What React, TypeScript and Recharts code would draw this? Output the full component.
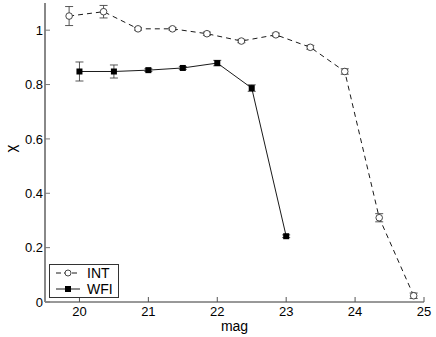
import React from 'react';
import { LineChart, Line, XAxis, YAxis, ErrorBar, Legend } from 'recharts';

const INT_MAG = [19.85, 20.35, 20.85, 21.35, 21.85, 22.35, 22.85, 23.35, 23.85, 24.35, 24.85];
const INT_CHI = [1.052, 1.068, 1.005, 1.005, 0.987, 0.96, 0.983, 0.937, 0.848, 0.31, 0.023];
const INT_ERR = [0.035, 0.023, 0.005, 0.005, 0.006, 0.006, 0.006, 0.007, 0.01, 0.015, 0.01];

const WFI_MAG = [20, 20.5, 21, 21.5, 22, 22.5, 23];
const WFI_CHI = [0.848, 0.848, 0.853, 0.861, 0.879, 0.787, 0.242];
const WFI_ERR = [0.035, 0.024, 0.005, 0.005, 0.01, 0.012, 0.005];

const X_TICKS = [20, 21, 22, 23, 24, 25];
const Y_TICKS = [0, 0.2, 0.4, 0.6, 0.8, 1];
const SERIES_NAMES = ['INT', 'WFI'];

const intData = INT_MAG.map((m, i) => ({ mag: m, chi: INT_CHI[i], err: INT_ERR[i] }));
const wfiData = WFI_MAG.map((m, i) => ({ mag: m, chi: WFI_CHI[i], err: WFI_ERR[i] }));

const FONT = '"Liberation Sans", Arial, Helvetica, sans-serif';

const SquareDot = (props: any) => {
  const { cx, cy } = props;
  if (cx == null || cy == null) return null;
  return <rect x={cx - 3} y={cy - 3} width={6} height={6} fill="#000" />;
};

const CircleDot = (props: any) => {
  const { cx, cy } = props;
  if (cx == null || cy == null) return null;
  return <circle cx={cx} cy={cy} r={3.3} fill="#fff" stroke="#333" strokeWidth={0.9} />;
};

const LegendBox = () => (
  <div
    style={{
      border: '1px solid #333',
      background: '#fff',
      width: 68,
      height: 32,
      fontFamily: FONT,
      fontSize: 14,
      color: '#000',
      boxSizing: 'content-box',
    }}
  >
    <div style={{ display: 'flex', alignItems: 'center', height: 16 }}>
      <svg width={36} height={16}>
        <line x1={6} y1={8} x2={30} y2={8} stroke="#000" strokeDasharray="5 3" strokeWidth={0.9} />
        <circle cx={18} cy={8} r={3} fill="#fff" stroke="#333" strokeWidth={0.9} />
      </svg>
      <span style={{ marginLeft: 1 }}>{SERIES_NAMES[0]}</span>
    </div>
    <div style={{ display: 'flex', alignItems: 'center', height: 16 }}>
      <svg width={36} height={16}>
        <line x1={6} y1={8} x2={30} y2={8} stroke="#000" strokeWidth={0.9} />
        <rect x={15} y={5} width={6} height={6} fill="#000" />
      </svg>
      <span style={{ marginLeft: 1 }}>{SERIES_NAMES[1]}</span>
    </div>
  </div>
);

export default function App() {
  return (
    <div style={{ position: 'absolute', left: 0, top: 0, background: '#fff' }}>
      <LineChart width={436} height={337} margin={{ top: 3, right: 12, left: 0, bottom: 0 }}>
        <XAxis
          xAxisId={0}
          type="number"
          dataKey="mag"
          domain={[19.5, 25]}
          ticks={X_TICKS}
          allowDataOverflow
          height={35}
          tickSize={-5}
          tickMargin={10}
          axisLine={{ stroke: '#333', strokeWidth: 1 }}
          tickLine={{ stroke: '#555' }}
          tick={{ fill: '#000', fontSize: 13, fontFamily: FONT }}
          label={{ value: 'mag', position: 'insideBottom', offset: 6, fill: '#000', fontSize: 14, fontFamily: FONT }}
        />
        <XAxis
          xAxisId="top"
          orientation="top"
          type="number"
          domain={[19.5, 25]}
          ticks={X_TICKS}
          allowDataOverflow
          height={0}
          tickSize={-5}
          axisLine={{ stroke: '#999', strokeWidth: 1.5 }}
          tickLine={{ stroke: '#777' }}
          tick={() => <g />}
        />
        <YAxis
          yAxisId={0}
          type="number"
          domain={[0, 1.1]}
          ticks={Y_TICKS}
          allowDataOverflow
          width={45}
          tickSize={-5}
          tickMargin={7}
          axisLine={{ stroke: '#888', strokeWidth: 2 }}
          tickLine={{ stroke: '#777' }}
          tick={{ fill: '#000', fontSize: 13, fontFamily: FONT }}
          label={{ value: 'χ', angle: -90, position: 'insideLeft', offset: 11, fill: '#000', fontSize: 15, fontFamily: FONT }}
        />
        <YAxis
          yAxisId="right"
          orientation="right"
          type="number"
          domain={[0, 1.1]}
          ticks={Y_TICKS}
          allowDataOverflow
          width={0}
          tickSize={-5}
          axisLine={{ stroke: '#888', strokeWidth: 2 }}
          tickLine={{ stroke: '#777' }}
          tick={() => <g />}
        />
        <Line
          data={intData}
          dataKey="chi"
          name={SERIES_NAMES[0]}
          stroke="#000"
          strokeWidth={0.9}
          strokeDasharray="5 4"
          dot={<CircleDot />}
          isAnimationActive={false}
        >
          <ErrorBar dataKey="err" direction="y" width={4} stroke="#444" strokeWidth={0.9} />
        </Line>
        <Line
          data={wfiData}
          dataKey="chi"
          name={SERIES_NAMES[1]}
          stroke="#000"
          strokeWidth={0.9}
          dot={<SquareDot />}
          isAnimationActive={false}
        >
          <ErrorBar dataKey="err" direction="y" width={4} stroke="#444" strokeWidth={0.9} />
        </Line>
        <Legend
          layout="vertical"
          align="center"
          verticalAlign="middle"
          wrapperStyle={{ left: 49, top: 264, width: 'auto' }}
          content={() => <LegendBox />}
        />
      </LineChart>
    </div>
  );
}
